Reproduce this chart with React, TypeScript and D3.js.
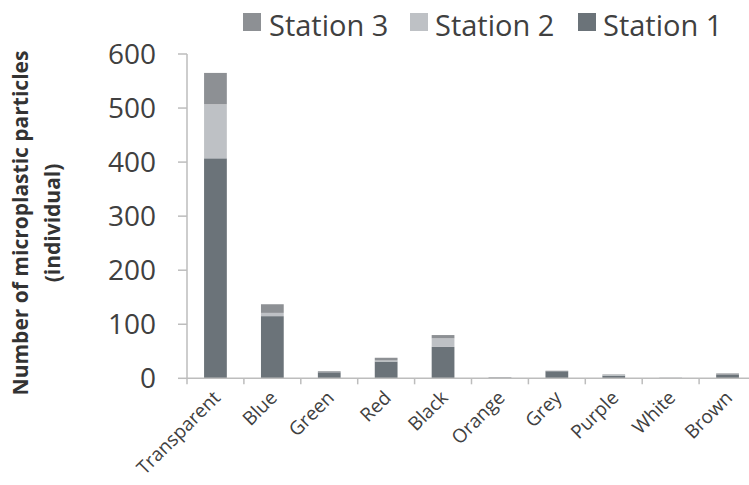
import React from "react";
import * as d3 from "d3";

const categories = ["Transparent", "Blue", "Green", "Red", "Black", "Orange", "Grey", "Purple", "White", "Brown"];
const station1 = [407, 115, 11, 31, 58, 1, 13, 5, 1, 7];
const station2 = [100, 6, 0, 2, 16, 0, 0, 1, 0, 0];
const station3 = [58, 16, 2, 5, 6, 1, 1, 1, 0, 2];
const seriesNames = ["Station 1", "Station 2", "Station 3"];
const seriesColors = ["#6b7379", "#bec1c5", "#8d9094"];
const yTicks = [0, 100, 200, 300, 400, 500, 600];

const W = 749;
const H = 485;
const FONT = "'Open Sans', 'DejaVu Sans', sans-serif";

export default function App() {
  const x = d3.scaleBand<string>().domain(categories).range([187, 756]).paddingInner(0.6).paddingOuter(0.3);
  const y = d3.scaleLinear().domain([0, 600]).range([378.3, 54]);
  const rows = categories.map((c, i) => ({ cat: c, s1: station1[i], s2: station2[i], s3: station3[i] }));
  const stack = d3.stack<any>().keys(["s1", "s2", "s3"])(rows);
  const step = x.step();
  const bounds = categories.map((c) => (x(c) as number) - (step - x.bandwidth()) / 2);

  const legend = [
    { name: seriesNames[2], color: seriesColors[2], sx: 243, tx: 269 },
    { name: seriesNames[1], color: seriesColors[1], sx: 410, tx: 435 },
    { name: seriesNames[0], color: seriesColors[0], sx: 578, tx: 603 },
  ];

  return (
    <div style={{ position: "fixed", left: 0, top: 0 }}>
      <svg width={W} height={H} style={{ display: "block", background: "#fff" }}>
        {/* legend */}
        {legend.map((l) => (
          <g key={l.name}>
            <rect x={l.sx} y={13} width={18} height={18} fill={l.color} />
            <text x={l.tx} y={36} fontFamily={FONT} fontSize={29} fill="#404040">{l.name}</text>
          </g>
        ))}
        {/* y axis */}
        <line x1={187} x2={187} y1={y(600)} y2={y(0)} stroke="#bdbdbd" strokeWidth={1.5} />
        {yTicks.map((t) => (
          <g key={t}>
            <line x1={178} x2={187} y1={y(t)} y2={y(t)} stroke="#bdbdbd" strokeWidth={1.5} />
            <text x={156} y={y(t)} dy="0.36em" textAnchor="end" fontFamily={FONT} fontSize={28} fill="#404040">{t}</text>
          </g>
        ))}
        {/* bars */}
        {stack.map((s, si) => (
          <g key={si} fill={seriesColors[si]}>
            {s.map((d, i) => (
              d[1] > d[0] ? (
                <rect key={i} x={x(categories[i])} width={x.bandwidth()} y={y(d[1])} height={y(d[0]) - y(d[1])} />
              ) : null
            ))}
          </g>
        ))}
        {/* x axis */}
        <line x1={187} x2={756} y1={y(0)} y2={y(0)} stroke="#bdbdbd" strokeWidth={1.5} />
        {bounds.concat([756]).map((b, i) => (
          <line key={i} x1={b} x2={b} y1={y(0)} y2={y(0) + 6} stroke="#bdbdbd" strokeWidth={1.5} />
        ))}
        {categories.map((c) => {
          const cx = (x(c) as number) + x.bandwidth() / 2 + 6;
          return (
            <text key={c} transform={`translate(${cx},399) rotate(-45)`} textAnchor="end" fontFamily={FONT} fontSize={19} fill="#404040">{c}</text>
          );
        })}
        {/* axis title */}
        <text transform="translate(28,223) rotate(-90)" textAnchor="middle" fontFamily={FONT} fontWeight="bold" fontSize={21} fill="#333">Number of microplastic particles</text>
        <text transform="translate(60,223) rotate(-90)" textAnchor="middle" fontFamily={FONT} fontWeight="bold" fontSize={21} fill="#333">(individual)</text>
      </svg>
    </div>
  );
}
